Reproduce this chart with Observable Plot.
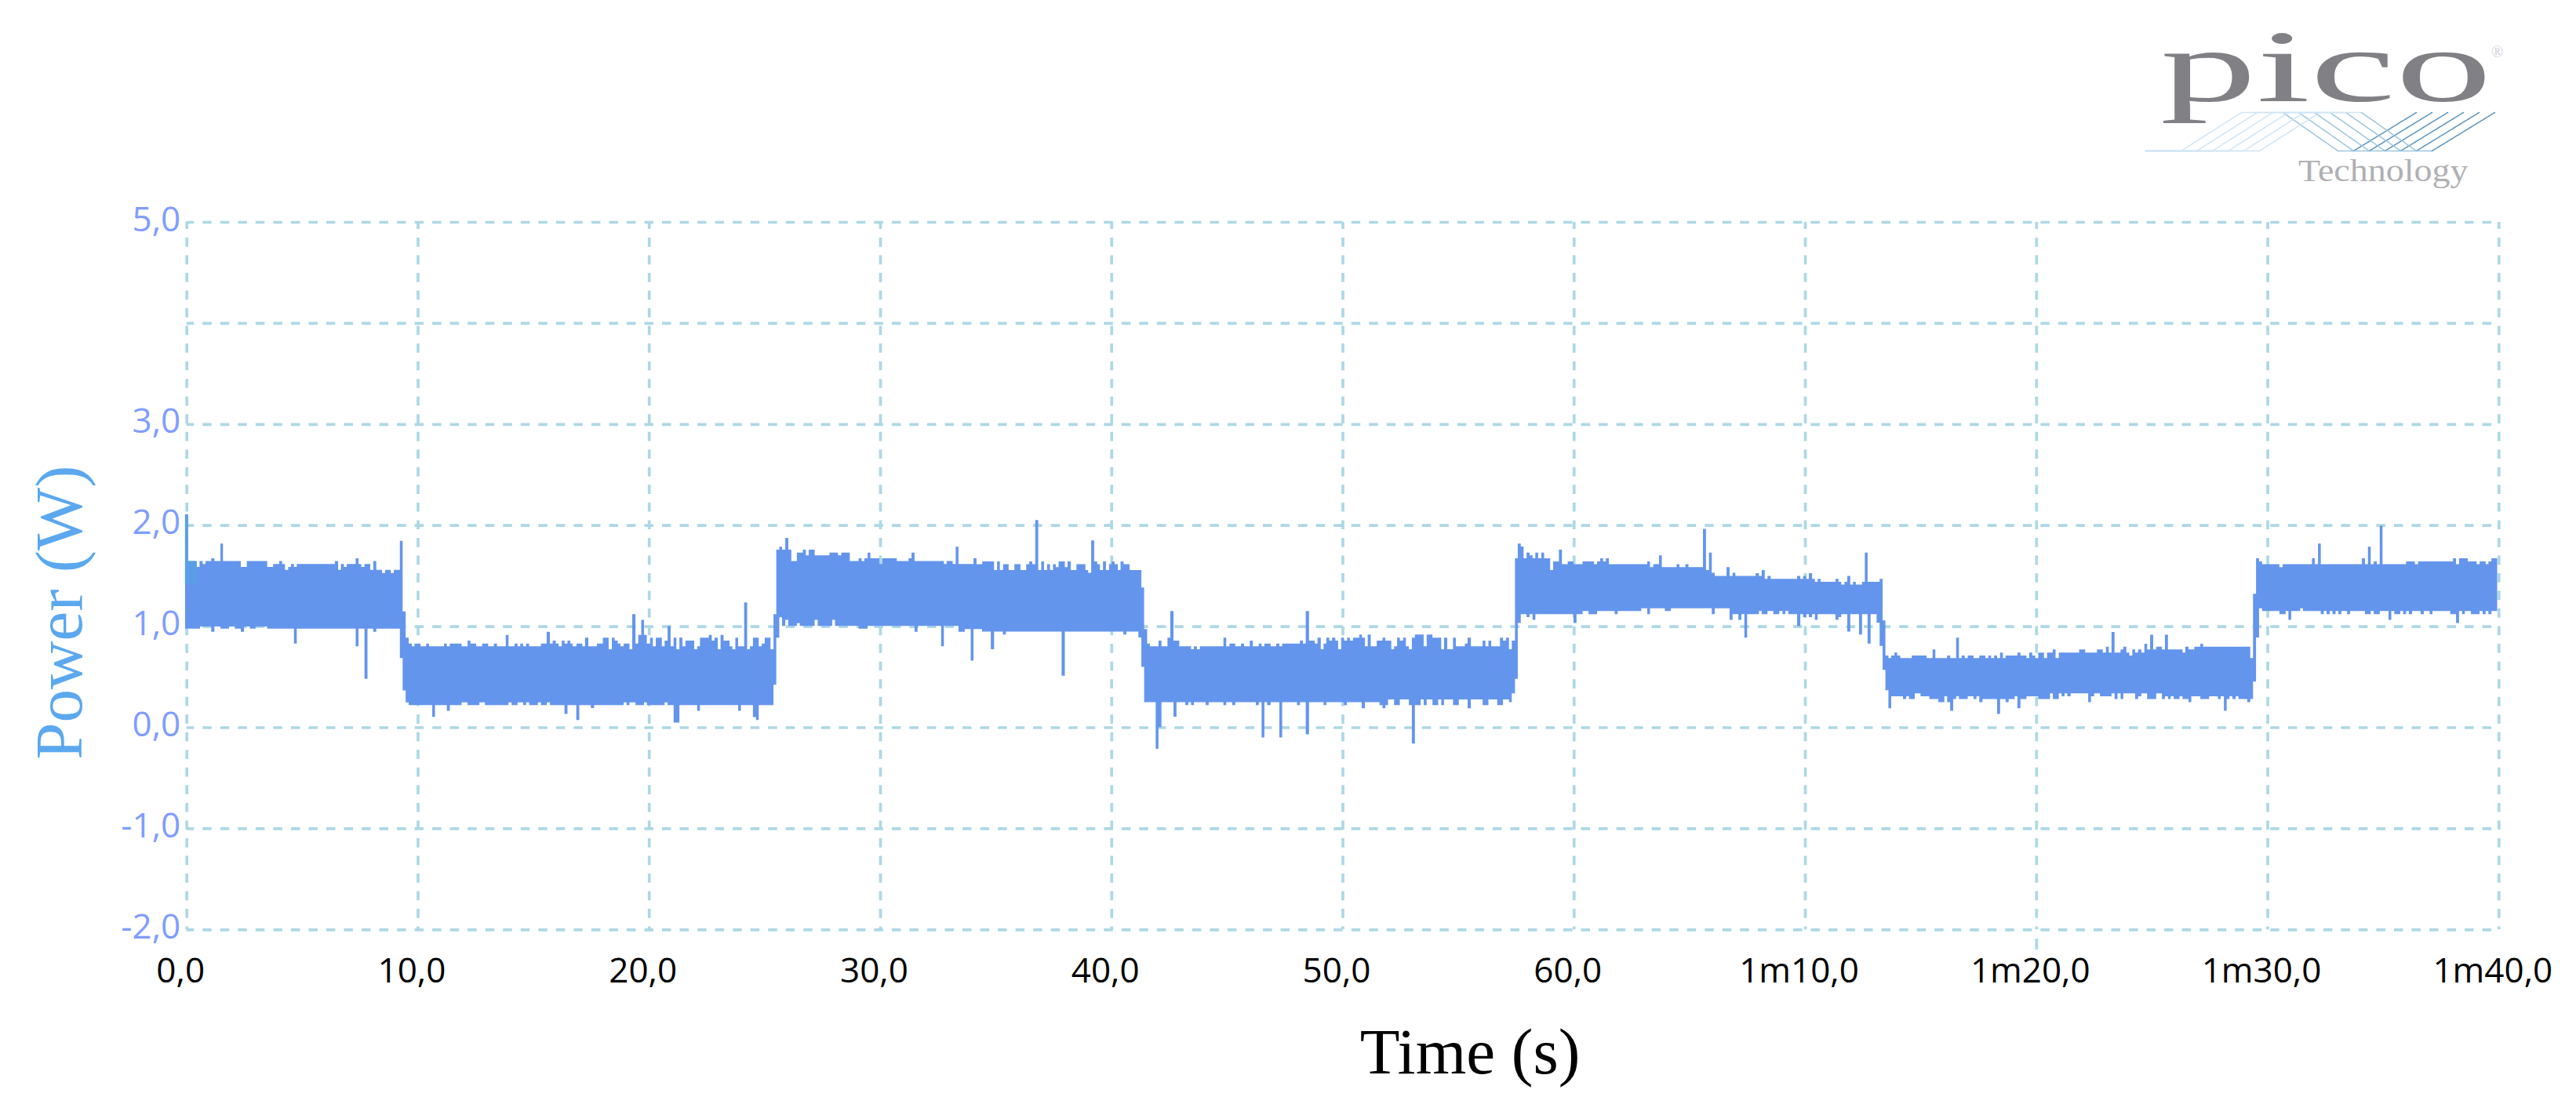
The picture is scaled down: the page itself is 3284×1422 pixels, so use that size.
<!DOCTYPE html>
<html><head><meta charset="utf-8">
<script src="https://cdn.jsdelivr.net/npm/d3@7"></script>
<script src="https://cdn.jsdelivr.net/npm/@observablehq/plot@0.6"></script>
<style>
html,body{margin:0;padding:0;background:#fff;overflow:hidden;width:3284px;height:1422px}
#page{position:relative;width:3284px;height:1422px}
#page svg{position:absolute;left:0;top:0;background:transparent}
.logo{position:absolute;font-family:"Liberation Serif",serif;white-space:nowrap;transform-origin:left top;line-height:1}
</style></head><body><div id="page"></div>
<script>
// Envelope of the power trace, [time (s), power (W)], one step per run.
const upperA=[[-0.06,2.107],[0.07,1.644],[0.44,1.587],[0.565,1.644],[0.70,1.615],[0.825,1.644],[1.07,1.672],[1.21,1.644],[1.47,1.817],[1.58,1.644],[2.35,1.587],[2.61,1.644],[3.49,1.587],[3.75,1.615],[4.01,1.644],[4.14,1.615],[4.26,1.558],[4.40,1.587],[4.52,1.615],[4.65,1.587],[4.77,1.615],[6.42,1.644],[6.56,1.558],[6.68,1.615],[6.81,1.587],[6.93,1.615],[7.32,1.672],[7.44,1.615],[7.56,1.587],[7.70,1.615],[7.95,1.558],[8.08,1.644],[8.21,1.558],[8.46,1.527],[8.59,1.558],[8.84,1.527],[8.97,1.558],[9.23,1.845],[9.35,1.147],[9.48,.886],[9.61,.829]];
const upperB=[[9.75,.801],[9.86,.829],[10.12,.801],[10.37,.829],[10.49,.801],[11.14,.829],[11.26,.801],[11.39,.829],[11.90,.801],[12.16,.858],[12.28,.829],[12.53,.801],[12.79,.829],[13.05,.801],[13.30,.829],[13.43,.801],[13.81,.914],[13.93,.801],[14.19,.829],[14.32,.801],[14.44,.829],[14.56,.801],[14.69,.829],[14.82,.801],[15.33,.829],[15.58,.945],[15.72,.829],[15.84,.858],[15.97,.829],[16.10,.801],[16.23,.858],[16.35,.829],[16.48,.858],[16.60,.829],[16.70,.801],[16.87,.829],[17.12,.801],[17.24,.886],[17.38,.801],[17.75,.829],[18.01,.886],[18.26,.772],[18.40,.886],[18.52,.858],[18.65,.829],[18.77,.801],[18.91,.829],[19.16,.772],[19.28,1.119],[19.42,.829],[19.54,.914],[19.67,1.062],[19.79,.914],[19.91,.829],[20.05,.886],[20.17,.801],[20.30,.886],[20.56,.801],[20.68,.858],[20.81,1.002],[20.94,.801],[21.07,.886],[21.19,.772],[21.32,.886],[21.45,.801],[21.58,.858],[21.96,.772],[22.09,.801],[22.21,.886],[22.59,.914],[22.72,.858],[22.84,.886],[22.98,.772],[23.10,.914],[23.23,.858],[23.49,.801],[23.61,.772],[23.74,.886],[23.86,.801],[24.12,1.235],[24.25,.772],[24.37,.801],[24.50,.886],[24.75,.801],[24.88,.829],[25.01,.886],[25.26,.772],[25.39,1.119]];
const upperC=[[25.51,1.757],[25.64,1.786],[25.76,1.757],[25.90,1.874],[26.03,1.757],[26.16,1.644],[26.40,1.729],[26.66,1.757],[26.79,1.701],[26.91,1.757],[27.17,1.701],[27.81,1.729],[28.18,1.701],[28.32,1.729],[28.69,1.644],[29.07,1.672],[29.20,1.644],[29.32,1.672],[29.46,1.729],[29.58,1.672],[29.97,1.615],[30.09,1.672],[30.72,1.644],[31.23,1.672],[31.36,1.729],[31.49,1.644],[32.76,1.615],[32.88,1.644],[33.14,1.615],[33.27,1.786],[33.39,1.615],[34.04,1.672],[34.17,1.613],[34.42,1.641],[34.93,1.556],[35.06,1.641],[35.18,1.556],[35.32,1.613],[35.56,1.556],[35.81,1.613],[36.07,1.556],[36.32,1.613],[36.45,1.641],[36.58,1.613],[36.71,2.05],[36.84,1.556],[36.97,1.641],[37.09,1.556],[37.22,1.613],[37.35,1.556],[37.48,1.613],[37.60,1.585],[37.72,1.641],[37.99,1.585],[38.11,1.641],[38.25,1.556],[38.49,1.613],[38.88,1.556],[39.00,1.528],[39.13,1.848],[39.26,1.641],[39.39,1.613],[39.51,1.556],[39.64,1.641],[39.77,1.556],[39.90,1.613],[40.02,1.641],[40.14,1.613],[40.28,1.556],[40.40,1.641],[40.53,1.613],[40.79,1.556],[41.30,1.383],[41.42,.972],[41.55,.829]];
const upperD=[[41.67,.801],[42.04,.858],[42.17,.801],[42.43,.886],[42.55,1.15],[42.69,.858],[42.94,.801],[43.45,.772],[43.57,.801],[43.70,.772],[43.83,.801],[44.85,.886],[44.97,.801],[45.11,.829],[45.36,.801],[45.61,.829],[45.74,.801],[45.99,.858],[46.12,.801],[46.38,.829],[46.50,.801],[46.62,.829],[46.89,.801],[47.13,.829],[47.27,.801],[47.39,.829],[48.16,.858],[48.29,.829],[48.41,1.15],[48.55,.858],[48.80,.829],[48.92,.886],[49.06,.772],[49.18,.829],[49.30,.886],[49.43,.858],[49.55,.886],[49.69,.858],[49.81,.772],[49.94,.886],[50.07,.858],[50.20,.886],[50.32,.858],[50.45,.886],[50.72,.917],[50.84,.886],[50.97,.801],[51.09,.917],[51.22,.801],[51.48,.858],[51.73,.886],[51.85,.858],[52.11,.772],[52.23,.801],[52.36,.886],[52.48,.858],[52.62,.886],[52.74,.801],[52.87,.772],[53.00,.886],[53.13,.917],[53.51,.801],[53.64,.917],[53.89,.886],[54.27,.772],[54.39,.886],[54.53,.772],[54.78,.886],[54.90,.801],[55.29,.829],[55.41,.886],[55.55,.801],[56.06,.858],[56.18,.801],[56.31,.858],[56.43,.801],[56.81,.886],[56.94,.858],[57.07,.886],[57.20,.772],[57.32,.858]];
const upperE=[[57.46,1.672],[57.58,1.817],[57.71,1.789],[57.83,1.672],[57.96,1.729],[58.09,1.701],[58.22,1.672],[58.34,1.729],[58.46,1.672],[58.60,1.729],[58.72,1.672],[58.98,1.556],[59.11,1.641],[59.36,1.758],[59.49,1.613],[59.74,1.641],[59.99,1.613],[60.38,1.641],[60.88,1.613],[61.01,1.641],[61.14,1.672],[61.27,1.641],[61.39,1.672],[61.52,1.613],[63.18,1.641],[63.30,1.585],[63.44,1.613],[63.69,1.701],[63.81,1.585],[64.45,1.613],[64.57,1.585],[64.83,1.613],[64.96,1.585],[65.59,1.962],[65.72,1.556],[65.85,1.729],[65.97,1.528],[66.10,1.497],[66.61,1.585],[66.74,1.497],[66.87,1.528],[66.99,1.497],[67.87,1.525],[68.01,1.497],[68.13,1.556],[68.26,1.468],[68.38,1.497],[68.52,1.468],[69.66,1.497],[69.80,1.468],[69.92,1.497],[70.05,1.468],[70.17,1.525],[70.31,1.468],[70.43,1.44],[70.55,1.468],[70.68,1.44],[71.32,1.468],[71.45,1.44],[71.57,1.411],[71.71,1.44],[71.83,1.497],[71.96,1.411],[72.08,1.44],[72.20,1.411],[72.47,1.44],[72.59,1.729],[72.71,1.44],[73.23,1.468],[73.36,1.057],[73.48,.71]];
const upperF=[[73.61,.685],[73.73,.71],[73.87,.739],[73.99,.71],[74.12,.685],[74.62,.71],[75.26,.685],[75.52,.77],[75.64,.685],[76.15,.71],[76.28,.685],[76.54,.886],[76.66,.685],[76.78,.71],[76.91,.685],[77.04,.71],[77.29,.685],[77.54,.71],[77.80,.685],[77.93,.71],[78.05,.685],[78.18,.71],[78.31,.685],[78.44,.739],[78.56,.685],[78.68,.71],[79.19,.739],[79.32,.71],[79.58,.685],[79.70,.739],[79.83,.71],[79.96,.685],[80.09,.739],[80.34,.685],[80.47,.739],[80.72,.77],[80.84,.685],[80.98,.739],[81.86,.77],[82.12,.739],[82.63,.77],[82.88,.739],[83.02,.798],[83.14,.739],[83.26,.943],[83.39,.739],[83.65,.77],[83.77,.798],[83.90,.739],[84.03,.71],[84.16,.77],[84.28,.739],[84.41,.77],[84.55,.739],[84.68,.827],[84.80,.77],[84.93,.915],[85.06,.77],[85.19,.798],[85.44,.77],[85.57,.915],[85.70,.77],[86.33,.739],[86.45,.798],[86.59,.77],[86.84,.798],[87.10,.827],[87.22,.798],[89.26,.685]];
const upperG=[[89.38,1.321],[89.51,1.672],[89.64,1.641],[89.77,1.613],[90.52,1.585],[90.66,1.613],[91.93,1.672],[92.05,1.613],[92.19,1.817],[92.31,1.613],[94.09,1.672],[94.22,1.613],[94.35,1.786],[94.47,1.613],[94.60,1.641],[94.73,1.613],[94.86,1.993],[94.98,1.613],[96.00,1.641],[96.38,1.613],[96.52,1.641],[98.03,1.672],[98.16,1.613],[98.29,1.672],[98.67,1.641],[99.05,1.613],[99.18,1.641],[99.44,1.613],[99.56,1.641],[99.69,1.672],[99.94,1.672]];

const lowerA=[[-0.06,.976],[.59,.997],[1.07,.945],[1.21,.997],[1.47,.976],[1.84,.997],[2.09,.976],[2.35,.945],[2.49,.997],[2.74,.976],[2.99,.997],[3.49,.976],[4.65,.829],[4.77,.976],[7.32,.801],[7.44,.976],[7.70,.480],[7.83,.976],[8.08,.945],[8.21,.976],[9.23,.684],[9.35,.364],[9.48,.247],[9.61,.219]];
const lowerB=[[10.63,.102],[10.75,.219],[11.26,.162],[11.39,.219],[11.90,.247],[12.16,.219],[12.67,.247],[12.91,.219],[13.93,.247],[14.06,.219],[14.32,.247],[14.56,.219],[14.69,.247],[14.82,.219],[15.20,.247],[15.33,.219],[15.58,.247],[15.72,.219],[16.35,.131],[16.48,.219],[16.86,.071],[16.99,.219],[17.49,.19],[17.63,.219],[18.91,.247],[19.03,.219],[19.16,.247],[19.42,.219],[19.79,.247],[19.91,.219],[20.68,.247],[20.81,.219],[21.07,.046],[21.32,.219],[22.09,.162],[22.21,.219],[23.86,.162],[23.98,.219],[24.50,.1],[24.63,.071],[24.75,.219],[25.39,.421],[25.51,.886],[25.64,1.088],[25.76,1.002]];
const lowerC=[[25.90,1.062],[26.03,1.002],[26.40,1.03],[26.53,1.002],[27.17,1.062],[27.30,1.002],[27.93,1.062],[28.05,1.002],[29.07,.976],[29.46,1.002],[31.49,.945],[31.62,1.002],[32.64,.801],[32.76,1.002],[33.39,.945],[33.66,.972],[33.92,.659],[34.04,.972],[34.41,.946],[34.79,.772],[34.93,.946],[35.31,.917],[35.44,.946],[37.85,.511],[37.99,.946],[40.52,.917],[40.65,.946],[41.17,.889],[41.30,.597],[41.42,.248]];
const lowerD=[[41.92,-.213],[42.04,0],[42.17,.248],[42.69,.105],[42.82,.248],[43.2,.219],[43.33,.248],[43.45,.219],[43.57,.248],[44.08,.219],[44.21,.248],[44.85,.219],[44.97,.248],[45.23,.219],[45.36,.248],[46.25,.219],[46.38,.248],[46.50,-.101],[46.62,.248],[46.74,.219],[46.89,.248],[47.27,-.101],[47.39,.248],[48.03,.219],[48.16,.248],[48.41,-.07],[48.55,.248],[49.18,.219],[49.30,.248],[50.06,.219],[50.19,.248],[50.83,.188],[50.97,.248],[51.60,.219],[51.73,.188],[51.85,.219],[51.97,.276],[52.23,.219],[52.48,.276],[52.87,.219],[53.00,-.161],[53.13,.219],[53.38,.276],[53.51,.219],[53.64,.276],[53.89,.219],[54.14,.276],[54.27,.219],[54.39,.276],[54.78,.219],[55.03,.276],[55.41,.188],[55.55,.276],[56.06,.219],[56.31,.276],[56.69,.219],[56.94,.276],[57.20,.248],[57.32,.335],[57.46,.48]];
const lowerE=[[57.58,1.031],[57.71,1.119],[57.96,1.09],[58.09,1.119],[58.22,1.062],[58.34,1.119],[59.99,1.031],[60.12,1.119],[60.38,1.15],[60.64,1.119],[61.01,1.15],[61.77,1.119],[61.90,1.15],[62.92,1.178],[63.18,1.119],[63.30,1.178],[63.94,1.15],[64.20,1.178],[65.97,1.119],[66.10,1.178],[66.74,1.062],[66.87,1.119],[67.12,1.062],[67.25,1.119],[67.38,.886],[67.50,1.119],[68.01,1.15],[68.13,1.119],[68.38,1.15],[68.63,1.119],[68.89,1.15],[69.03,1.119],[69.15,1.15],[69.28,1.119],[69.66,1.0],[69.80,1.119],[69.92,1.09],[70.05,1.119],[70.17,1.09],[70.31,1.119],[70.43,1.062],[70.55,1.119],[71.32,1.062],[71.45,1.09],[71.57,1.119],[71.83,.946],[71.96,1.119],[72.34,.917],[72.47,1.119],[72.71,.829],[72.84,1.119],[73.10,1.034],[73.23,.804],[73.36,.568],[73.48,.367],[73.61,.188]];
const lowerF=[[73.73,.307],[74.24,.279],[74.38,.307],[74.50,.279],[74.75,.335],[75.00,.307],[75.38,.279],[75.77,.248],[76.03,.307],[76.15,.248],[76.28,.162],[76.41,.279],[76.54,.307],[76.66,.279],[77.04,.307],[77.29,.279],[77.42,.307],[77.54,.248],[77.68,.279],[78.31,.131],[78.44,.279],[78.68,.248],[78.81,.279],[79.07,.307],[79.19,.188],[79.32,.279],[79.58,.307],[80.09,.279],[80.60,.335],[80.72,.279],[80.98,.335],[81.10,.307],[81.23,.335],[81.35,.307],[81.49,.335],[82.25,.248],[82.37,.307],[82.51,.335],[82.76,.307],[83.26,.335],[83.39,.279],[83.52,.335],[83.65,.279],[83.77,.335],[84.28,.279],[84.41,.307],[84.55,.335],[84.80,.279],[85.19,.335],[85.44,.279],[85.57,.307],[85.70,.279],[85.82,.307],[85.95,.279],[86.20,.307],[86.33,.279],[86.59,.248],[86.71,.307],[87.10,.279],[87.48,.307],[87.86,.279],[87.98,.307],[88.12,.162],[88.24,.279],[88.36,.307],[88.49,.279],[88.63,.307],[88.75,.279],[89.13,.248],[89.26,.279],[89.38,.452]];
const lowerG=[[89.51,.889],[89.64,1.178],[89.77,1.15],[90.52,1.119],[90.79,1.15],[90.91,1.062],[91.03,1.15],[91.42,1.178],[91.54,1.15],[92.31,1.119],[92.44,1.15],[92.56,1.119],[92.70,1.15],[92.82,1.119],[92.95,1.15],[93.07,1.119],[93.20,1.15],[93.45,1.119],[93.58,1.15],[94.22,1.119],[94.47,1.15],[94.60,1.119],[94.86,1.15],[95.24,1.062],[95.36,1.15],[95.49,1.119],[95.75,1.15],[95.87,1.119],[96.00,1.15],[96.12,1.119],[96.26,1.15],[96.63,1.119],[96.77,1.15],[97.02,1.119],[97.14,1.15],[97.91,1.119],[98.16,1.031],[98.29,1.15],[98.42,1.119],[98.54,1.15],[98.80,1.119],[99.18,1.15],[99.31,1.119],[99.44,1.15],[99.56,1.119],[99.69,1.15],[99.94,1.15]];

const xTicks=[0,10,20,30,40,50,60,70,80,90,100];
const xTickLabels=["0,0","10,0","20,0","30,0","40,0","50,0","60,0","1m10,0","1m20,0","1m30,0","1m40,0"];
const yGrid=[5,4,3,2,1,0,-1,-2];
const yTicks=[5,3,2,1,0,-1,-2];
const yTickLabels=["5,0","3,0","2,0","1,0","0,0","-1,0","-2,0"];
// The lighter patch at the very start of the trace: [from s, to s, from W, to W]
const startPatch=[[-0.06,0.44,1.413,1.644],[-0.06,0.07,1.413,2.107]];

const upper=[...upperA,...upperB,...upperC,...upperD,...upperE,...upperF,...upperG];
const lower=[...lowerA,...lowerB,...lowerC,...lowerD,...lowerE,...lowerF,...lowerG];
const stepAt=(rows,t)=>rows[Math.max(0,d3.bisectRight(rows.map(r=>r[0]),t)-1)][1];
const times=[...new Set([...upper,...lower].map(r=>r[0]))].sort(d3.ascending);
const band=times.map(t=>({t,hi:stepAt(upper,t),lo:stepAt(lower,t)}));

const gridColor="#add8e6",sans='"Open Sans",sans-serif',serif='"Liberation Serif",serif';
const chart=Plot.plot({
  width:3284,height:1422,marginLeft:237.7,marginRight:98.7,marginTop:283,marginBottom:236.7,
  style:{background:"transparent"},
  x:{domain:[0,100],label:null},y:{domain:[-2,5],label:null},
  marks:[
    Plot.ruleY(yGrid,{x1:0,x2:100,stroke:gridColor,strokeWidth:3.7,strokeDasharray:"11.5 11.03",strokeDashoffset:2}),
    Plot.ruleX(xTicks,{y1:5,y2:-2,stroke:gridColor,strokeWidth:3.7,strokeDasharray:"11.7 10.83",strokeDashoffset:2.6}),
    Plot.ruleX([80],{y1:-2.09,y2:-2.2,stroke:gridColor,strokeWidth:3.7}),
    Plot.areaY(band,{x:"t",y1:"lo",y2:"hi",curve:"step-after",fill:"#6495ed"}),
    Plot.rect(startPatch,{x1:d=>d[0],x2:d=>d[1],y1:d=>d[2],y2:d=>d[3],fill:"#5a9fe6"}),
    Plot.axisX({ticks:xTicks,tickFormat:(d,i)=>xTickLabels[xTicks.indexOf(d)],tickSize:0,tickPadding:36,fontSize:44,fontFamily:sans,color:"#000",label:null,dx:-8}),
    Plot.axisY({ticks:yTicks,tickFormat:d=>yTickLabels[yTicks.indexOf(d)],tickSize:0,tickPadding:8,fontSize:44,fontFamily:sans,color:"#7f9dff",label:null,dy:-3}),
    Plot.text(["Time (s)"],{x:55.5,y:-2,dy:157,fontSize:83,fontFamily:serif,fill:"#000",textAnchor:"middle"}),
    Plot.text(["Power (W)"],{x:0,y:1.14,dx:-161,rotate:-90,fontSize:85,fontFamily:serif,fill:"#5ba8ef",textAnchor:"middle"})
  ]
});
document.getElementById("page").appendChild(chart);

// Logo: the woven wave lines, in the logo's own units
const waveKnots=[15,60,137,190,260,280,360];
const waveLevels=[62,62,13,13,62,62,13];
const waveShifts=[0,20,40,60,80,100];
const waveSegments=[{from:0,to:3,stroke:"#cfe5f6"},{from:3,to:5,stroke:"#9cc5e0"},{from:5,to:6,stroke:"#5c93bd"}];
const waveRows=waveShifts.flatMap((s,i)=>waveSegments.flatMap((g,j)=>d3.range(g.from,g.to+1).map(k=>({x:waveKnots[k]+(k===0?0:s),y:waveLevels[k],z:i+"-"+j,stroke:g.stroke}))));
const logoLines=Plot.plot({
  width:480,height:75,margin:0,axis:null,style:{background:"transparent"},
  x:{domain:[0,480],range:[0,480]},y:{domain:[0,75],range:[0,75]},
  marks:[Plot.line(waveRows,{x:"x",y:"y",z:"z",stroke:d=>d.stroke,strokeWidth:1.5,strokeDasharray:"3 1"})]
});
logoLines.style.left="2720px";logoLines.style.top="130px";
document.getElementById("page").appendChild(logoLines);
const addLogoText=(txt,left,top,size,sx,color)=>{const d=document.createElement("div");d.className="logo";d.textContent=txt;
  d.style.left=left+"px";d.style.top=top+"px";d.style.fontSize=size+"px";d.style.color=color;d.style.transform=`scaleX(${sx})`;document.getElementById("page").appendChild(d);};
addLogoText("pico",2754,19,132,1.86,"#808085");
addLogoText("Technology",2930,198,40,1.15,"#b0b0b4");
addLogoText("®",3176,56,20,1,"#cfcfd2");
</script></body></html>
